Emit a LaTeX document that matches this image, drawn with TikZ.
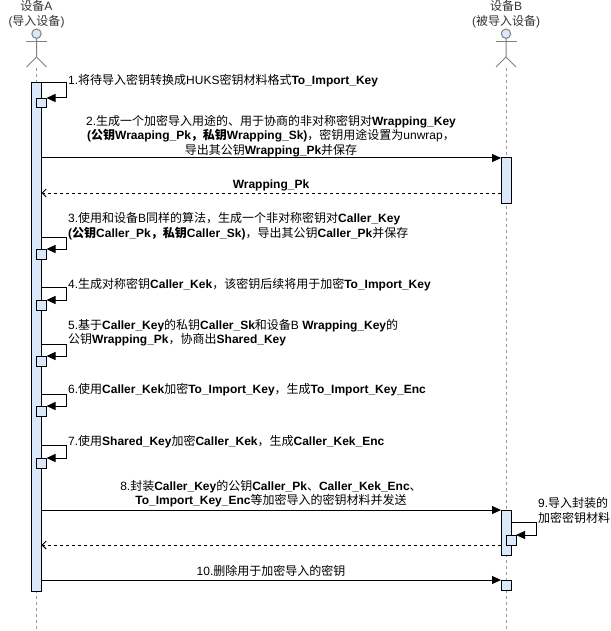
\documentclass[tikz,border=0pt]{standalone}
\usepackage{fontspec}
\setmainfont{Liberation Sans}
\newfontfamily\cjkfont{Noto Sans CJK SC}
\usetikzlibrary{arrows.meta}
\definecolor{barblue}{HTML}{DAE8FC}
% switch to the CJK family for ideographs and fullwidth punctuation
\XeTeXinterchartokenstate=1
\newXeTeXintercharclass\cjkclass
\count255=32
\loop\XeTeXcharclass\count255=0 \ifnum\count255<126 \advance\count255 by 1 \repeat
\count255="3000
\loop\XeTeXcharclass\count255=\cjkclass \ifnum\count255<"303F \advance\count255 by 1 \repeat
\count255="4E00
\loop\XeTeXcharclass\count255=\cjkclass \ifnum\count255<"9FFF \advance\count255 by 1 \repeat
\count255="FF00
\loop\XeTeXcharclass\count255=\cjkclass \ifnum\count255<"FFEF \advance\count255 by 1 \repeat
\XeTeXinterchartoks 0 \cjkclass = {\begingroup\cjkfont}
\XeTeXinterchartoks 4095 \cjkclass = {\begingroup\cjkfont}
\XeTeXinterchartoks \cjkclass 0 = {\endgroup}
\XeTeXinterchartoks \cjkclass 4095 = {\endgroup}

\begin{document}
\begin{tikzpicture}[x=1pt, y=-1pt,
		lbl/.style={inner sep=0pt, font=\fontsize{12}{14.5}\selectfont},
		actorline/.style={draw=black!50, line width=1pt},
		lifeline/.style={draw=black!40, line width=1pt, dash pattern=on 3pt off 3pt},
		bar/.style={draw=black, fill=barblue, line width=1pt},
		msg/.style={draw=black, line width=1pt, -{Triangle[length=9pt,width=8pt]}},
		ret/.style={draw=black, line width=1pt, dash pattern=on 3pt off 3pt, -{Straight Barb[length=4pt,width=8pt]}}]
		%%%%% START %%%%%
		
		\useasboundingbox (0, 0) rectangle (610, 631);
		
		\node[lbl, align=center, text=black!80] (labA) at (36.5, 14) {设备A\\(导入设备)};
		\node[lbl, align=center, text=black!80] (labB) at (506, 14) {设备B\\(被导入设备)};
		
		\draw[lifeline] (36.5, 68) -- (36.5, 631);
		\draw[lifeline] (506, 68) -- (506, 631);
		
		\draw[actorline, fill=barblue] (36.5, 33.7) circle (4.7pt);
		\draw[actorline] (26, 42) -- (47, 42);
		\draw[actorline] (36.5, 38.4) -- (36.5, 57) -- (26.5, 67);
		\draw[actorline] (36.5, 57) -- (46.5, 67);
		
		\draw[actorline, fill=barblue] (506, 33.7) circle (4.7pt);
		\draw[actorline] (495.5, 42) -- (516.5, 42);
		\draw[actorline] (506, 38.4) -- (506, 57) -- (496, 67);
		\draw[actorline] (506, 57) -- (516, 67);
		
		\draw[bar] (31.5, 83) rectangle (41.5, 591);
		\draw[bar] (501, 158) rectangle (511, 203);
		\draw[bar] (501, 510) rectangle (511, 555);
		\draw[bar] (501, 580) rectangle (511, 590);
		
		% 1
		\coordinate (s1) at (41.5, 83);
		\coordinate (t1) at (46.5, 98);
		\draw[msg] (s1) -- ++(24.5, 0) |- (t1);
		\draw[bar] (36.5, 98.5) rectangle (46.5, 108);
		\node[lbl, anchor=west] (m1) at (68, 81) {1.将待导入密钥转换成HUKS密钥材料格式\textbf{To\_Import\_Key}};
		
		% 2
		\coordinate (a2) at (41.5, 158);
		\coordinate (b2) at (501, 158);
		\draw[msg] (a2) -- (b2);
		\node[lbl, align=center] (m2) at (271, 136) {2.生成一个加密导入用途的、用于协商的非对称密钥对\textbf{Wrapping\_Key}\\\textbf{(公钥Wraaping\_Pk，私钥Wrapping\_Sk)}，密钥用途设置为unwrap，\\导出其公钥\textbf{Wrapping\_Pk}并保存};
		\coordinate (b2r) at (501, 193);
		\coordinate (a2r) at (41.5, 193);
		\draw[ret] (b2r) -- (a2r);
		\node[lbl] (r2) at (271, 185) {\textbf{Wrapping\_Pk}};
		
		% 3
		\coordinate (s3) at (41.5, 237.5);
		\coordinate (t3) at (46.5, 249);
		\draw[msg] (s3) -- ++(24.5, 0) |- (t3);
		\draw[bar] (36.5, 249.5) rectangle (46.5, 259);
		\node[lbl, anchor=west, align=left] (m3) at (68, 226) {3.使用和设备B同样的算法，生成一个非对称密钥对\textbf{Caller\_Key}\\\textbf{(公钥Caller\_Pk，私钥Caller\_Sk)}，导出其公钥\textbf{Caller\_Pk}并保存};
		
		% 4
		\coordinate (s4) at (41.5, 287);
		\coordinate (t4) at (46.5, 300);
		\draw[msg] (s4) -- ++(24.5, 0) |- (t4);
		\draw[bar] (36.5, 300.5) rectangle (46.5, 310);
		\node[lbl, anchor=west] (m4) at (68, 285) {4.生成对称密钥\textbf{Caller\_Kek}，该密钥后续将用于加密\textbf{To\_Import\_Key}};
		
		% 5
		\coordinate (s5) at (41.5, 344);
		\coordinate (t5) at (46.5, 356);
		\draw[msg] (s5) -- ++(24.5, 0) |- (t5);
		\draw[bar] (36.5, 356.5) rectangle (46.5, 366);
		\node[lbl, anchor=west, align=left] (m5) at (68, 332.5) {5.基于\textbf{Caller\_Key}的私钥\textbf{Caller\_Sk}和设备B \textbf{Wrapping\_Key}的\\公钥\textbf{Wrapping\_Pk}，协商出\textbf{Shared\_Key}};
		
		% 6
		\coordinate (s6) at (41.5, 394);
		\coordinate (t6) at (46.5, 406);
		\draw[msg] (s6) -- ++(24.5, 0) |- (t6);
		\draw[bar] (36.5, 406.5) rectangle (46.5, 416);
		\node[lbl, anchor=west] (m6) at (68, 390) {6.使用\textbf{Caller\_Kek}加密\textbf{To\_Import\_Key}，生成\textbf{To\_Import\_Key\_Enc}};
		
		% 7
		\coordinate (s7) at (41.5, 445);
		\coordinate (t7) at (46.5, 458);
		\draw[msg] (s7) -- ++(24.5, 0) |- (t7);
		\draw[bar] (36.5, 458.5) rectangle (46.5, 468);
		\node[lbl, anchor=west] (m7) at (68, 442) {7.使用\textbf{Shared\_Key}加密\textbf{Caller\_Kek}，生成\textbf{Caller\_Kek\_Enc}};
		
		% 8
		\coordinate (a8) at (41.5, 510);
		\coordinate (b8) at (501, 510);
		\draw[msg] (a8) -- (b8);
		\node[lbl, align=center] (m8) at (271, 493.5) {8.封装\textbf{Caller\_Key}的公钥\textbf{Caller\_Pk}、\textbf{Caller\_Kek\_Enc}、\\\textbf{To\_Import\_Key\_Enc}等加密导入的密钥材料并发送};
		
		% 9
		\coordinate (s9) at (511, 522);
		\coordinate (t9) at (516, 535);
		\draw[msg] (s9) -- ++(25, 0) |- (t9);
		\draw[bar] (506, 535.5) rectangle (516, 545);
		\node[lbl, anchor=west, align=left] (m9) at (538, 510.5) {9.导入封装的\\加密密钥材料};
		\coordinate (b8r) at (501, 545);
		\coordinate (a8r) at (41.5, 545);
		\draw[ret] (b8r) -- (a8r);
		
		% 10
		\coordinate (a10) at (41.5, 580);
		\coordinate (b10) at (501, 580);
		\draw[msg] (a10) -- (b10);
		\node[lbl] (m10) at (271, 571) {10.删除用于加密导入的密钥};
		
		%%%%% END %%%%%
	\end{tikzpicture}
\end{document}
